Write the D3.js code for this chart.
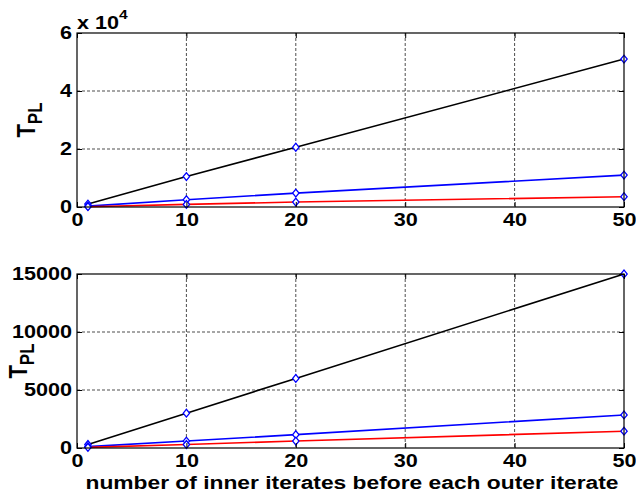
<!DOCTYPE html>
<html>
<head>
<meta charset="utf-8">
<script src="https://cdn.jsdelivr.net/npm/d3@7"></script>
<style>
  body { margin: 0; background: #fff; }
  svg text { font-family: "Liberation Sans", Arial, sans-serif; font-weight: bold; }
</style>
</head>
<body>
<svg id="chart" width="636" height="497"></svg>
<script>
// Data
const iterates = [1, 10, 20, 50];

// top panel (x 10^4)
const topBlack = [1000, 10500, 20600, 51000];
const topBlue = [300, 2500, 4800, 11000];
const topRed = [100, 900, 1700, 3550];

// bottom panel
const botBlack = [300, 3000, 6000, 15000];
const botBlue = [120, 600, 1150, 2850];
const botRed = [50, 300, 600, 1450];

const xTicks = [0, 10, 20, 30, 40, 50];
const topTicks = [0, 20000, 40000, 60000];
const botTicks = [0, 5000, 10000, 15000];

const svg = d3.select("#chart");
const left = 77, right = 624;
const SX = 1.2; // text in the picture is wide, stretch it horizontally

const xScale = d3.scaleLinear().domain([0, 50]).range([left, right]);

// stretch text horizontally around its own anchor x
function stretch(sel) {
  sel.attr("transform", function () {
    const x = +this.getAttribute("x") || 0;
    return `translate(${x * (1 - SX)},0) scale(${SX},1)`;
  });
}

function panel(top, bottom, yMax, yTicks, yFormat, series, labelX) {
  const yScale = d3.scaleLinear().domain([0, yMax]).range([bottom, top]);
  const g = svg.append("g");

  // grid
  g.selectAll(".gx")
    .data(xTicks.slice(1, -1))
    .join("line")
    .attr("x1", (d) => xScale(d)).attr("x2", (d) => xScale(d))
    .attr("y1", top).attr("y2", bottom)
    .attr("stroke", "#000").attr("stroke-width", 0.7)
    .attr("stroke-dasharray", "3,2");
  g.selectAll(".gy")
    .data(yTicks.slice(1, -1))
    .join("line")
    .attr("x1", left).attr("x2", right)
    .attr("y1", (d) => yScale(d)).attr("y2", (d) => yScale(d))
    .attr("stroke", "#000").attr("stroke-width", 0.7)
    .attr("stroke-dasharray", "3,2");

  // lines
  const line = d3.line()
    .x((d, i) => xScale(iterates[i]))
    .y((d) => yScale(d));
  series.forEach((s) => {
    g.append("path")
      .attr("d", line(s.values))
      .attr("fill", "none")
      .attr("stroke", s.color)
      .attr("stroke-width", 1.6);
  });
  // markers
  const diamond = d3.symbol().type(d3.symbolDiamond2 || d3.symbolDiamond).size(32);
  series.forEach((s) => {
    g.selectAll(null)
      .data(s.values)
      .join("path")
      .attr("d", diamond)
      .attr("transform", (d, i) => `translate(${xScale(iterates[i])},${yScale(d)}) scale(0.9,1.1)`)
      .attr("fill", "#fff")
      .attr("stroke", "#0000ff")
      .attr("stroke-width", 1.3);
  });

  // axes
  const xAxis = g.append("g")
    .attr("transform", `translate(0,${bottom})`)
    .call(d3.axisBottom(xScale).tickValues(xTicks).tickSizeInner(-5).tickSizeOuter(0).tickPadding(6));
  const xTop = g.append("g")
    .attr("transform", `translate(0,${top})`)
    .call(d3.axisTop(xScale).tickValues(xTicks).tickSizeInner(-5).tickSizeOuter(0).tickFormat(""));
  const yAxis = g.append("g")
    .attr("transform", `translate(${left},0)`)
    .call(d3.axisLeft(yScale).tickValues(yTicks).tickSizeInner(-5).tickSizeOuter(0).tickPadding(5).tickFormat(yFormat));
  const yRight = g.append("g")
    .attr("transform", `translate(${right},0)`)
    .call(d3.axisRight(yScale).tickValues(yTicks).tickSizeInner(-5).tickSizeOuter(0).tickFormat(""));
  [xAxis, xTop, yAxis, yRight].forEach((a) => {
    a.select(".domain").remove();
    a.selectAll("line").attr("stroke", "#000").attr("stroke-width", 1);
    a.selectAll("text")
      .attr("fill", "#000")
      .style("font-size", "18px")
      .style("font-family", "'Liberation Sans', Arial, sans-serif")
      .style("font-weight", "bold")
      .call(stretch);
  });

  // box
  g.append("rect")
    .attr("x", left).attr("y", top)
    .attr("width", right - left).attr("height", bottom - top)
    .attr("fill", "none").attr("stroke", "#000").attr("stroke-width", 1.2);

  // y label T_PL
  const yl = g.append("text")
    .attr("transform", `translate(${labelX},${(top + bottom) / 2}) scale(${SX},1) rotate(-90)`)
    .attr("text-anchor", "middle")
    .attr("fill", "#000")
    .style("font-size", "22px");
  yl.append("tspan").text("T");
  yl.append("tspan").attr("dy", 6).style("font-size", "17px").text("PL");

  return yScale;
}

panel(33, 207, 60000, topTicks, (d) => d / 10000,
  [
    { values: topBlack, color: "#000" },
    { values: topBlue, color: "#0000ff" },
    { values: topRed, color: "#ff0000" },
  ], 35);

// exponent label
const expo = svg.append("text")
  .attr("x", 77).attr("y", 29)
  .attr("fill", "#000")
  .style("font-size", "18px");
expo.append("tspan").text("x 10");
expo.append("tspan").attr("dy", -10).style("font-size", "13px").text("4");
expo.call(stretch);

panel(274, 448, 15000, botTicks, (d) => d,
  [
    { values: botBlack, color: "#000" },
    { values: botBlue, color: "#0000ff" },
    { values: botRed, color: "#ff0000" },
  ], 27);

svg.append("text")
  .attr("x", 352)
  .attr("y", 489)
  .attr("text-anchor", "middle")
  .attr("fill", "#000")
  .style("font-size", "19px")
  .text("number of inner iterates before each outer iterate")
  .call(stretch);
</script>
</body>
</html>
